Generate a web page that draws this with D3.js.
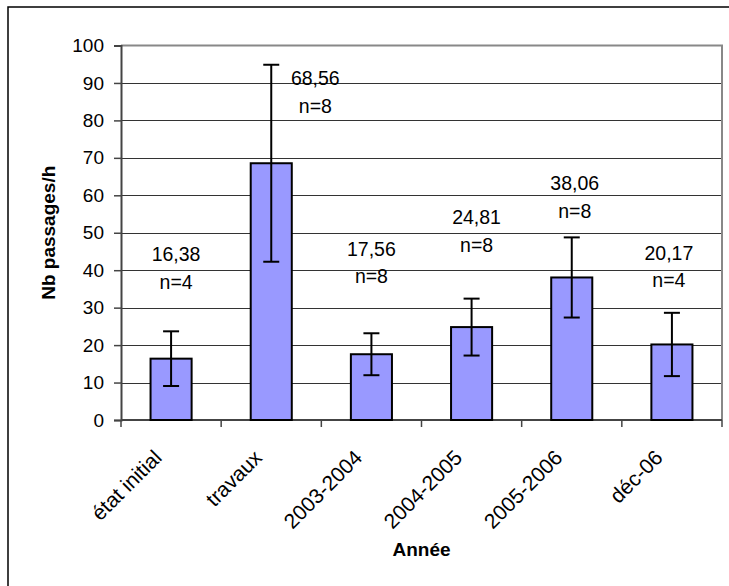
<!DOCTYPE html>
<html>
<head>
<meta charset="utf-8">
<script src="https://cdn.jsdelivr.net/npm/d3@7"></script>
<style>
  html, body { margin: 0; padding: 0; background: #fff; }
  svg { display: block; }
  text { font-family: "Liberation Sans", Arial, sans-serif; fill: #000; }
</style>
</head>
<body>
<svg id="chart" width="729" height="586"></svg>
<script>
// ---- data ----
const categories = ["état initial", "travaux", "2003-2004", "2004-2005", "2005-2006", "déc-06"];
const means      = [16.38, 68.56, 17.56, 24.81, 38.06, 20.17];
const errors     = [7.3, 26.3, 5.6, 7.6, 10.7, 8.45];
const counts     = [4, 8, 8, 8, 8, 4];
const yTicks     = [0, 10, 20, 30, 40, 50, 60, 70, 80, 90, 100];
// annotation placement (value units for the "n=" line baseline, category-width shift)
const labelAt    = [35.0, 82.1, 36.5, 44.9, 54.0, 35.4];
const labelShift = [0.05, 0.44, 0.0, 0.05, 0.03, -0.03];

const svg = d3.select("#chart");
const L = 121, R = 722, T = 45.5, B = 420;

const x = d3.scaleBand().domain(categories).range([L, R]).padding(0);
const y = d3.scaleLinear().domain([0, 100]).range([B, T]);

// outer chart border (cropped on right and bottom)
svg.append("rect").attr("x", 8).attr("y", 7).attr("width", 760).attr("height", 620)
  .attr("fill", "none").attr("stroke", "#000").attr("stroke-width", 1.5);

// gridlines
svg.append("g").selectAll("line").data(yTicks.filter(d => d > 0 && d < 100)).join("line")
  .attr("x1", L).attr("x2", R)
  .attr("y1", d => Math.round(y(d)) + 0.5).attr("y2", d => Math.round(y(d)) + 0.5)
  .attr("stroke", "#333").attr("stroke-width", 1);

// plot border top & right (gray)
svg.append("path")
  .attr("d", `M${L},${T} H${R} V${B}`)
  .attr("fill", "none").attr("stroke", "#888").attr("stroke-width", 2);

// y axis
const yAxis = d3.axisLeft(y).tickValues(yTicks).tickSize(7).tickPadding(10).tickFormat(d3.format("d"));
const gy = svg.append("g").attr("transform", `translate(${L},0)`).call(yAxis);
gy.select(".domain").attr("stroke", "#444").attr("stroke-width", 2);
gy.selectAll(".tick line").attr("stroke", "#444").attr("stroke-width", 1.5);
gy.selectAll(".tick text").style("font-size", "19px").style("font-family", "Liberation Sans, Arial, sans-serif").attr("fill", "#000");

// x axis
const boundaries = d3.range(categories.length + 1).map(i => L + i * x.step());
const gx = svg.append("g");
gx.append("line").attr("x1", L).attr("x2", R).attr("y1", B).attr("y2", B)
  .attr("stroke", "#444").attr("stroke-width", 2);
gx.selectAll("line.tk").data(boundaries).join("line").attr("class", "tk")
  .attr("x1", d => d).attr("x2", d => d).attr("y1", B).attr("y2", B + 7)
  .attr("stroke", "#444").attr("stroke-width", 1.5);
gx.selectAll("text").data(categories).join("text")
  .attr("transform", d => `translate(${x(d) + x.bandwidth() / 2 - 8},459) rotate(-45)`)
  .attr("text-anchor", "end")
  .style("font-size", "21px")
  .text(d => d);

// bars
const bw = x.bandwidth() * 0.41;
const rows = categories.map((c, i) => ({ c, m: means[i], e: errors[i], n: counts[i], la: labelAt[i], ls: labelShift[i] }));
svg.append("g").selectAll("rect").data(rows).join("rect")
  .attr("x", d => x(d.c) + (x.bandwidth() - bw) / 2)
  .attr("width", bw)
  .attr("y", d => y(d.m))
  .attr("height", d => y(0) - y(d.m))
  .attr("fill", "#9999FF").attr("stroke", "#000").attr("stroke-width", 2);

// error bars
const eg = svg.append("g").attr("stroke", "#000").attr("stroke-width", 2);
rows.forEach(d => {
  const cx = x(d.c) + x.bandwidth() / 2;
  eg.append("line").attr("x1", cx).attr("x2", cx).attr("y1", y(d.m + d.e)).attr("y2", y(d.m - d.e));
  eg.append("line").attr("x1", cx - 8).attr("x2", cx + 8).attr("y1", y(d.m + d.e)).attr("y2", y(d.m + d.e));
  eg.append("line").attr("x1", cx - 8).attr("x2", cx + 8).attr("y1", y(d.m - d.e)).attr("y2", y(d.m - d.e));
});

// data labels
const fmt = v => d3.format(".2f")(v).replace(".", ",");
const lg = svg.append("g");
rows.forEach(d => {
  const cx = x(d.c) + x.bandwidth() / 2 + d.ls * x.step();
  const by = y(d.la);
  lg.append("text").attr("x", cx).attr("y", by - 27.5).attr("text-anchor", "middle")
    .style("font-size", "19.5px").text(fmt(d.m));
  lg.append("text").attr("x", cx).attr("y", by).attr("text-anchor", "middle")
    .style("font-size", "19.5px").text("n=" + d.n);
});

// axis titles
svg.append("text").attr("transform", `translate(55,${(T + B) / 2}) rotate(-90)`)
  .attr("text-anchor", "middle").style("font-size", "19px").style("font-weight", "bold")
  .text("Nb passages/h");
svg.append("text").attr("x", (L + R) / 2).attr("y", 556)
  .attr("text-anchor", "middle").style("font-size", "19px").style("font-weight", "bold")
  .text("Année");
</script>
</body>
</html>
